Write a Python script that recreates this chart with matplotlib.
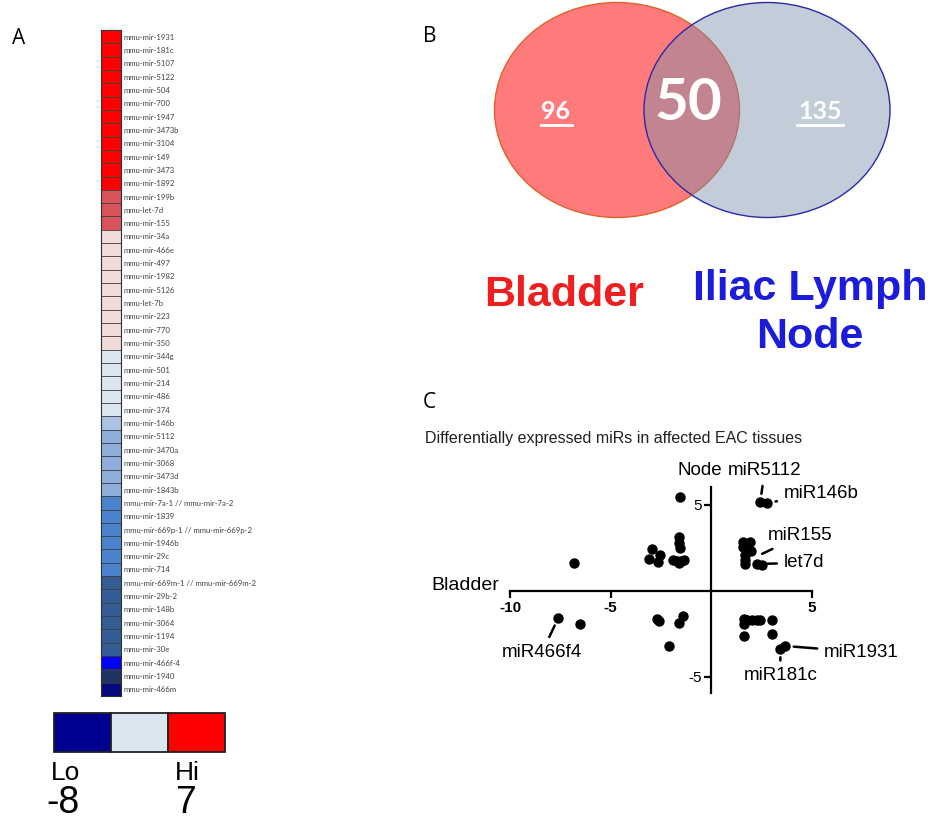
import matplotlib
matplotlib.use('Agg')
import numpy as np
import matplotlib.pyplot as plt
from matplotlib.patches import Ellipse, Rectangle
from matplotlib.colors import ListedColormap, BoundaryNorm

plt.rcParams['font.family'] = ['Liberation Sans', 'DejaVu Sans']

# Panel A: heatmap of miRs (level = colour class)
mirs = ['mmu-mir-1931', 'mmu-mir-181c', 'mmu-mir-5107', 'mmu-mir-5122', 'mmu-mir-504',
        'mmu-mir-700', 'mmu-mir-1947', 'mmu-mir-3473b', 'mmu-mir-3104', 'mmu-mir-149',
        'mmu-mir-3473', 'mmu-mir-1892', 'mmu-mir-199b', 'mmu-let-7d', 'mmu-mir-155',
        'mmu-mir-34a', 'mmu-mir-466e', 'mmu-mir-497', 'mmu-mir-1982', 'mmu-mir-5126',
        'mmu-let-7b', 'mmu-mir-223', 'mmu-mir-770', 'mmu-mir-350', 'mmu-mir-344g',
        'mmu-mir-501', 'mmu-mir-214', 'mmu-mir-486', 'mmu-mir-374', 'mmu-mir-146b',
        'mmu-mir-5112', 'mmu-mir-3470a', 'mmu-mir-3068', 'mmu-mir-3473d', 'mmu-mir-1843b',
        'mmu-mir-7a-1 // mmu-mir-7a-2', 'mmu-mir-1839', 'mmu-mir-669p-1 // mmu-mir-669p-2',
        'mmu-mir-1946b', 'mmu-mir-29c', 'mmu-mir-714', 'mmu-mir-669m-1 // mmu-mir-669m-2',
        'mmu-mir-29b-2', 'mmu-mir-148b', 'mmu-mir-3064', 'mmu-mir-1194', 'mmu-mir-30e',
        'mmu-mir-466f-4', 'mmu-mir-1940', 'mmu-mir-466m']
heat_level = [0, 0, 0, 0, 0, 0, 0, 0, 0, 0, 0, 0,
              1, 1, 1,
              2, 2, 2, 2, 2, 2, 2, 2, 2,
              3, 3, 3, 3, 3,
              4,
              5, 5, 5, 5, 5,
              6, 6, 6, 6, 6, 6,
              7, 7, 7, 7, 7, 7,
              8, 9, 10]
level_colors = ['#ff0000', '#d8535a', '#f2dcdb', '#dce6f1', '#abc2e2', '#8eaedb',
                '#4b82cd', '#335b96', '#0000ff', '#1f3460', '#08087e']
legend_colors = ['#000090', '#dce6f1', '#ff0000']
legend_ticks = ['-8', '7']

# Panel B: venn counts
venn_counts = [96, 50, 135]
venn_names = ['Bladder', 'Iliac Lymph\nNode']

# Panel C: log fold change, bladder (x) vs node (y)
bladder_fc = [-1.54, -6.8, -2.93, -2.53, -3.08, -2.63, -1.59, -1.59, -1.54, -1.89, -1.69, -1.49, -1.34, -1.59,
              2.43, 2.78, 1.59, 1.94, 1.59, 1.99, 1.69, 1.69, 1.69, 2.29, 2.53,
              -7.6, -6.5, -2.68, -2.58, -1.59, -1.39, -2.09,
              1.64, 1.64, 1.79, 2.04, 2.29, 2.43, 3.03, 1.64, 3.03, 3.43, 3.68]
node_fc = [5.47, 1.63, 2.44, 2.09, 1.86, 1.69, 3.14, 2.79, 2.5, 1.80, 1.74, 1.74, 1.80, 1.63,
           5.17, 5.12, 2.85, 2.85, 2.56, 2.33, 2.09, 1.80, 1.57, 1.57, 1.51,
           -1.57, -1.92, -1.63, -1.74, -1.86, -1.45, -3.2,
           -1.63, -1.92, -1.69, -1.69, -1.69, -1.69, -1.69, -2.62, -2.50, -3.37, -3.2]
labels_c = ['miR5112', 'miR146b', 'miR155', 'let7d', 'miR466f4', 'miR1931', 'miR181c']
label_pts = [(2.43, 5.17), (2.78, 5.12), (2.15, 1.95), (2.29, 1.57), (-7.6, -1.57), (3.68, -3.2), (3.43, -3.37)]

W, H = 937, 824
fig = plt.figure(figsize=(W / 100, H / 100), dpi=100)

# full-figure canvas in pixel units for panel letters, venn and legend
cv = fig.add_axes([0, 0, 1, 1])
cv.set_xlim(0, W)
cv.set_ylim(H, 0)
cv.axis('off')

cv.text(12, 38, 'A', fontsize=15, va='center', family=['Open Sans', 'DejaVu Sans'])
cv.text(423, 36, 'B', fontsize=15, va='center', family=['Open Sans', 'DejaVu Sans'])
cv.text(423, 402, 'C', fontsize=15, va='center', family=['Open Sans', 'DejaVu Sans'])

# ---- A: heatmap
axh = fig.add_axes([101 / W, (H - 696) / H, 20 / W, 666 / H])
cmap = ListedColormap(level_colors)
norm = BoundaryNorm(np.arange(-0.5, len(level_colors)), len(level_colors))
axh.pcolormesh(np.array(heat_level).reshape(-1, 1), cmap=cmap, norm=norm)
# thin cell borders
axh.hlines(np.arange(len(mirs) + 1), 0, 1, color='#3c3c3c', lw=0.6)
axh.set_ylim(len(mirs), 0)
axh.set_xlim(0, 1)
axh.set_xticks([])
axh.set_yticks(np.arange(len(mirs)) + 0.5)
axh.set_yticklabels(mirs, fontsize=5.6, color='#404040', family=['Lato', 'DejaVu Sans'])
axh.yaxis.tick_right()
axh.tick_params(axis='y', length=0, pad=2)
for s in axh.spines.values():
    s.set_linewidth(0.8)
    s.set_color('#303030')

# colour key
for i, c in enumerate(legend_colors):
    cv.add_patch(Rectangle((54 + i * 57, 713), 57, 39, facecolor=c, edgecolor='#222222', lw=1.3))
cv.text(66, 773, 'Lo', fontsize=19, ha='center', va='center')
cv.text(187, 773, 'Hi', fontsize=19, ha='center', va='center')
cv.text(63, 803, legend_ticks[0], fontsize=27, ha='center', va='center')
cv.text(186, 803, legend_ticks[1], fontsize=27, ha='center', va='center')

# ---- B: venn
cv.add_patch(Ellipse((617, 110), 245, 215, facecolor='#ff7b7b', edgecolor='#e0602a', lw=1.0))
cv.add_patch(Ellipse((767, 110), 246, 215, facecolor=(0.478, 0.565, 0.678, 0.45),
                     edgecolor='#2a2aa6', lw=1.0))
bold_font = ['Lato', 'DejaVu Sans']
cv.text(556, 111, str(venn_counts[0]), fontsize=18, fontweight='bold', color='white',
        ha='center', va='center', family=bold_font)
cv.plot([541, 572], [125, 125], color='white', lw=2)
cv.text(688, 103, str(venn_counts[1]), fontsize=42, fontweight='bold', color='white',
        ha='center', va='center', family=bold_font)
cv.text(820, 111, str(venn_counts[2]), fontsize=18, fontweight='bold', color='white',
        ha='center', va='center', family=bold_font)
cv.plot([797, 843], [125, 125], color='white', lw=2)
cv.text(564, 295, venn_names[0], fontsize=31, fontweight='bold', color='#f01e1e',
        ha='center', va='center')
cv.text(810, 313, venn_names[1], fontsize=31, fontweight='bold', color='#1c1cdc',
        ha='center', va='center', linespacing=1.25)

# ---- C: scatter
cv.text(425, 438, 'Differentially expressed miRs in affected EAC tissues', fontsize=11.5,
        va='center', color='#222222')

axs = fig.add_axes([430 / W, (H - 700) / H, 500 / W, 230 / H])
axs.scatter(bladder_fc, node_fc, s=42, color='black', zorder=3)
axs.set_xlim(-13.97, 10.86)
axs.set_ylim(-6.34, 7.03)
axs.spines['left'].set_position(('data', 0))
axs.spines['bottom'].set_position(('data', 0))
axs.spines['right'].set_visible(False)
axs.spines['top'].set_visible(False)
axs.spines['bottom'].set_bounds(-10, 5)
axs.spines['left'].set_bounds(-5.93, 6.05)
for s in ['left', 'bottom']:
    axs.spines[s].set_linewidth(1.6)
axs.set_xticks([-10, -5, 5])
axs.set_xticklabels(['-10', '-5', '5'], fontsize=11, fontweight='bold')
axs.set_yticks([-5, 5])
axs.set_yticklabels(['-5', '5'], fontsize=11)
axs.tick_params(direction='out', length=5, width=1.6, pad=2)
axs.patch.set_alpha(0)

axs.text(-0.55, 7.0, 'Node', fontsize=13.5, ha='center', va='center', clip_on=False)
axs.text(-10.55, 0.3, 'Bladder', fontsize=14, ha='right', va='center', clip_on=False)

text_pos = [(2.65, 7.0), (3.6, 5.64), (2.8, 3.2), (3.6, 1.63), (-8.4, -3.55), (5.6, -3.55), (3.43, -4.94)]
text_ha = ['center', 'left', 'left', 'left', 'center', 'left', 'center']
for lab, pt, tp, ha in zip(labels_c, label_pts, text_pos, text_ha):
    axs.annotate(lab, xy=pt, xytext=tp, fontsize=13.5, ha=ha, va='center',
                 arrowprops=dict(arrowstyle='-', lw=1.8, color='black', shrinkA=3, shrinkB=6),
                 annotation_clip=False)

fig.savefig('out.png', dpi=100)
